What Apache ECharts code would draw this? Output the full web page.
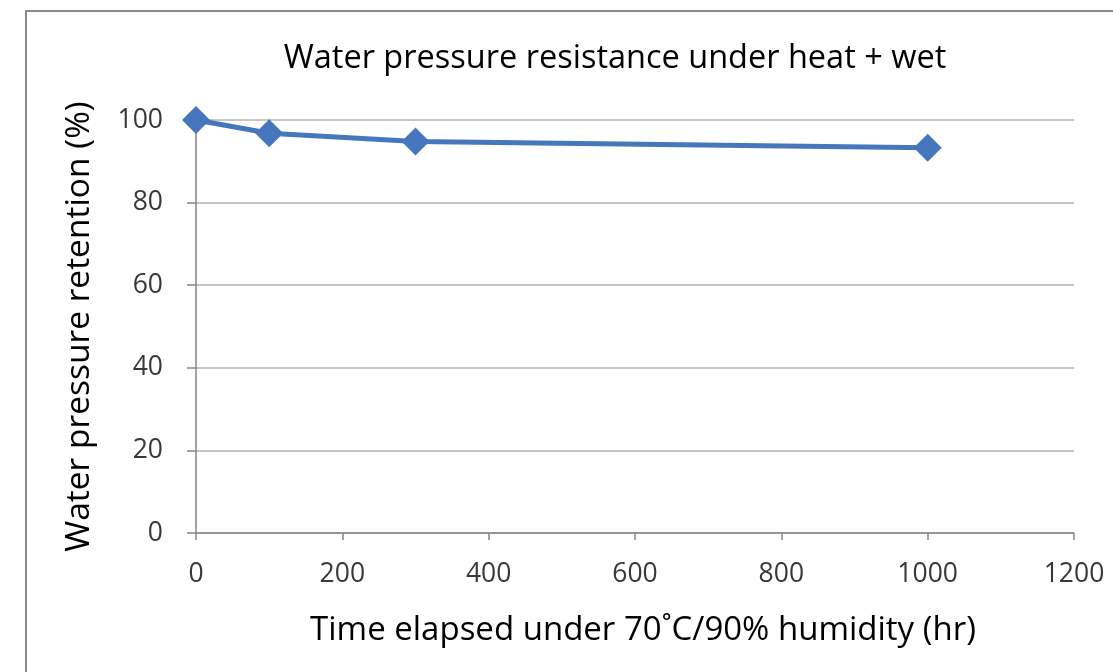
<!DOCTYPE html>
<html>
<head>
<meta charset="utf-8">
<script src="https://cdn.jsdelivr.net/npm/echarts@6/dist/echarts.min.js"></script>
<style>html,body{margin:0;padding:0;background:#fff}#c{width:1113px;height:672px}</style>
</head>
<body>
<div id="c"></div>
<script>
const hours = [0, 100, 300, 1000];
const retention = [100, 96.8, 94.8, 93.3];
const xTicks = [0, 200, 400, 600, 800, 1000, 1200];
const yTicks = [0, 20, 40, 60, 80, 100];

const chart = echarts.init(document.getElementById('c'));
const font = '"Open Sans", "DejaVu Sans", sans-serif';
chart.setOption({
  backgroundColor: '#fff',
  animation: false,
  title: {
    text: 'Water pressure resistance under heat + wet',
    left: 610, top: 37, textAlign: 'center',
    textStyle: { fontFamily: font, fontSize: 32.5, fontWeight: 'normal', color: '#000' }
  },
  graphic: [{
    type: 'rect', silent: true,
    shape: { x: 26, y: 11, width: 1200, height: 800 },
    style: { fill: 'none', stroke: '#8a8a8a', lineWidth: 2 }
  }],
  grid: { left: 196, right: 39, top: 120, bottom: 139 },
  xAxis: {
    type: 'value', min: xTicks[0], max: xTicks[xTicks.length - 1], interval: 200,
    name: 'Time elapsed under 70˚C/90% humidity (hr)',
    nameLocation: 'middle', nameGap: 81,
    nameTextStyle: { fontFamily: font, fontSize: 33, color: '#000', padding: [0, 0, 0, 16] },
    axisLine: { lineStyle: { color: '#868686', width: 1.5 } },
    axisTick: { show: true, length: 7, lineStyle: { color: '#868686', width: 1.5 } },
    axisLabel: { fontFamily: font, fontSize: 26.5, color: '#383838', margin: 28, formatter: v => String(v) },
    splitLine: { show: false }
  },
  yAxis: {
    type: 'value', min: yTicks[0], max: yTicks[yTicks.length - 1], interval: 20,
    name: 'Water pressure retention (%)',
    nameLocation: 'middle', nameGap: 100, nameRotate: 90,
    nameTextStyle: { fontFamily: font, fontSize: 33.5, color: '#000', padding: [0, 0, 0, 0] },
    axisLine: { show: true, lineStyle: { color: '#868686', width: 1.5 } },
    axisTick: { show: true, length: 9, lineStyle: { color: '#868686', width: 1.5 } },
    axisLabel: { fontFamily: font, fontSize: 26.5, color: '#383838', margin: 33, formatter: v => String(v) },
    splitLine: { lineStyle: { color: '#b3b3b3', width: 1.5 } }
  },
  series: [{
    type: 'line',
    data: hours.map((h, i) => [h, retention[i]]),
    symbol: 'diamond', symbolSize: 28,
    lineStyle: { color: '#4677BE', width: 5 },
    itemStyle: { color: '#4677BE' }
  }]
});
</script>
</body>
</html>
